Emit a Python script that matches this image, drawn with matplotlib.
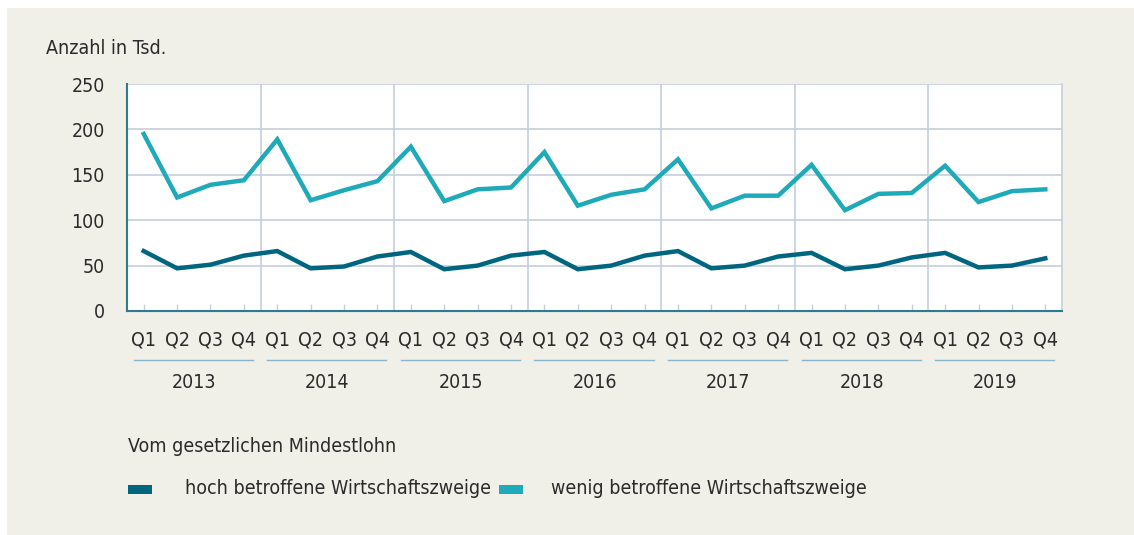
import matplotlib.pyplot as plt
from matplotlib.patches import Rectangle
import matplotlib.transforms as mtransforms

# Daten (Anzahl in Tsd.)
years = ['2013', '2014', '2015', '2016', '2017', '2018', '2019']
quarters = ['Q1', 'Q2', 'Q3', 'Q4']
hoch = [66, 47, 51, 61,
        66, 47, 49, 60,
        65, 46, 50, 61,
        65, 46, 50, 61,
        66, 47, 50, 60,
        64, 46, 50, 59,
        64, 48, 50, 58]
wenig = [195, 125, 139, 144,
         189, 122, 133, 143,
         181, 121, 134, 136,
         175, 116, 128, 134,
         167, 113, 127, 127,
         161, 111, 129, 130,
         160, 120, 132, 134]
labels = ['hoch betroffene Wirtschaftszweige', 'wenig betroffene Wirtschaftszweige']

c_dark = '#00657f'
c_light = '#1faab9'
c_bg = '#f0efe8'
c_grid = '#c5d0dc'
c_spine = '#2f7b92'
c_text = '#2b2b2b'

plt.rcParams['font.family'] = ['DejaVu Sans']
plt.rcParams['font.stretch'] = 'condensed'
plt.rcParams['font.size'] = 14

fig = plt.figure(figsize=(11.34, 5.35), dpi=100)
fig.patch.set_facecolor('white')
fig.patches.append(Rectangle((7 / 1134, 0), 1, 1 - 8 / 535, transform=fig.transFigure,
                             facecolor=c_bg, edgecolor='none', zorder=-10))

ax = fig.add_axes([127 / 1134, 1 - 311 / 535, 935 / 1134, 227 / 535])
ax.set_facecolor('white')

x = list(range(len(hoch)))
ax.plot(x, wenig, color=c_light, lw=3.2, solid_joinstyle='miter', zorder=3)
ax.plot(x, hoch, color=c_dark, lw=3.2, solid_joinstyle='miter', zorder=3)

ax.set_xlim(-0.5, len(hoch) - 0.5)
ax.set_ylim(0, 250)
ax.set_yticks(range(0, 251, 50))
ax.yaxis.grid(True, color=c_grid, lw=1.2)
for k in range(1, len(years)):
    ax.axvline(4 * k - 0.5, color=c_grid, lw=1.2, zorder=1)

ax.spines['top'].set_visible(False)
ax.spines['right'].set_color(c_grid)
ax.spines['right'].set_linewidth(1.2)
ax.spines['left'].set_color(c_spine)
ax.spines['bottom'].set_color(c_spine)
ax.spines['left'].set_linewidth(1.5)
ax.spines['bottom'].set_linewidth(1.5)

ax.set_xticks(x)
ax.set_xticklabels(quarters * len(years), color=c_text, fontsize=14)
ax.tick_params(axis='x', direction='in', length=5, color=c_grid, width=1, pad=14)
ax.tick_params(axis='y', length=0, pad=16, labelcolor=c_text, labelsize=14)

trans = mtransforms.blended_transform_factory(ax.transData, ax.transAxes)
for i, yr in enumerate(years):
    ax.plot([4 * i - 0.3, 4 * i + 3.27], [-0.216, -0.216], transform=trans,
            color='#8ab6cc', lw=1, clip_on=False)
    ax.text(4 * i + 1.5, -0.317, yr, transform=trans, ha='center', va='center',
            color=c_text, fontsize=14)

fig.text(46 / 1134, 1 - 48 / 535, 'Anzahl in Tsd.', ha='left', va='center',
         color=c_text, fontsize=14)

# Legende
fig.text(128 / 1134, 1 - 447 / 535, 'Vom gesetzlichen Mindestlohn', ha='left',
         va='center', color=c_text, fontsize=14)
for col, lab, x0, xt in [(c_dark, labels[0], 128, 185), (c_light, labels[1], 499, 551)]:
    fig.patches.append(Rectangle((x0 / 1134, 1 - 494 / 535), 24 / 1134, 9 / 535,
                                 transform=fig.transFigure, facecolor=col,
                                 edgecolor='none'))
    fig.text(xt / 1134, 1 - 489 / 535, lab, ha='left', va='center',
             color=c_text, fontsize=14)

fig.savefig('out.png', dpi=100, facecolor=fig.get_facecolor())
